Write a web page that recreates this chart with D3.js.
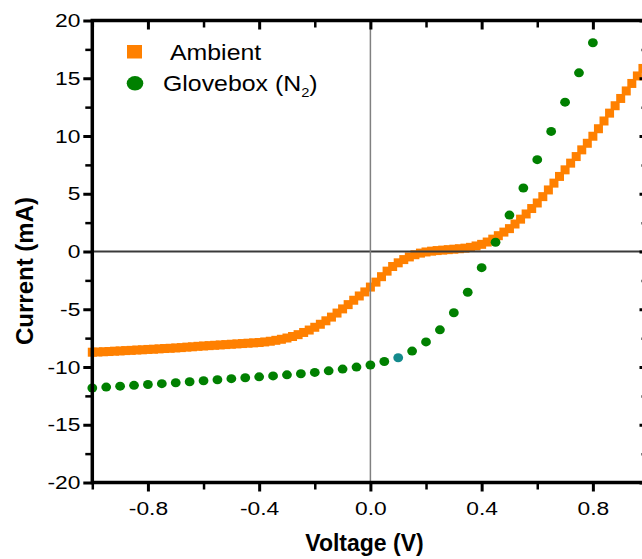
<!DOCTYPE html>
<html>
<head>
<meta charset="utf-8">
<script src="https://cdn.jsdelivr.net/npm/d3@7"></script>
<style>
  html, body { margin: 0; padding: 0; background: #fff; }
  svg { display: block; font-family: "Liberation Sans", Arial, sans-serif; }
</style>
</head>
<body>
<svg id="chart" width="642" height="559"></svg>
<script>
// J-V sweep, ambient atmosphere (0.02 V step)
const voltageAmbient = [
  -1.00, -0.98, -0.96, -0.94, -0.92, -0.90, -0.88, -0.86, -0.84, -0.82,
  -0.80, -0.78, -0.76, -0.74, -0.72, -0.70, -0.68, -0.66, -0.64, -0.62,
  -0.60, -0.58, -0.56, -0.54, -0.52, -0.50, -0.48, -0.46, -0.44, -0.42,
  -0.40, -0.38, -0.36, -0.34, -0.32, -0.30, -0.28, -0.26, -0.24, -0.22,
  -0.20, -0.18, -0.16, -0.14, -0.12, -0.10, -0.08, -0.06, -0.04, -0.02,
   0.00,  0.02,  0.04,  0.06,  0.08,  0.10,  0.12,  0.14,  0.16,  0.18,
   0.20,  0.22,  0.24,  0.26,  0.28,  0.30,  0.32,  0.34,  0.36,  0.38,
   0.40,  0.42,  0.44,  0.46,  0.48,  0.50,  0.52,  0.54,  0.56,  0.58,
   0.60,  0.62,  0.64,  0.66,  0.68,  0.70,  0.72,  0.74,  0.76,  0.78,
   0.80,  0.82,  0.84,  0.86,  0.88,  0.90,  0.92,  0.94,  0.96,  0.98,
   1.00
];
const currentAmbient = [
  -8.72, -8.70, -8.68, -8.66, -8.63, -8.61, -8.58, -8.56, -8.53, -8.51,
  -8.48, -8.46, -8.43, -8.40, -8.38, -8.35, -8.32, -8.28, -8.25, -8.21,
  -8.18, -8.15, -8.12, -8.09, -8.06, -8.03, -8.00, -7.97, -7.94, -7.91,
  -7.88, -7.83, -7.77, -7.69, -7.60, -7.49, -7.36, -7.20, -7.01, -6.80,
  -6.56, -6.30, -6.00, -5.68, -5.33, -4.97, -4.60, -4.22, -3.85, -3.50,
  -3.08, -2.65, -2.18, -1.70, -1.30, -0.98, -0.70, -0.47, -0.28, -0.14,
  -0.04,  0.03,  0.08,  0.12,  0.16,  0.20,  0.24,  0.29,  0.36,  0.48,
   0.62,  0.82,  1.07,  1.37,  1.68,  1.98,  2.38,  2.80,  3.25,  3.72,
   4.20,  4.75,  5.33,  5.92,  6.50,  7.07,  7.65,  8.22,  8.80,  9.37,
   9.98, 10.63, 11.30, 11.98, 12.62, 13.25, 13.90, 14.55, 15.20, 15.85,
  16.50
];

// J-V sweep, nitrogen glovebox (0.05 V step)
const voltageGlovebox = [
  -1.00, -0.95, -0.90, -0.85, -0.80, -0.75, -0.70, -0.65, -0.60, -0.55,
  -0.50, -0.45, -0.40, -0.35, -0.30, -0.25, -0.20, -0.15, -0.10, -0.05,
   0.00,  0.05,  0.10,  0.15,  0.20,  0.25,  0.30,  0.35,  0.40,  0.45,
   0.50,  0.55,  0.60,  0.65,  0.70,  0.75,  0.80
];
const currentGlovebox = [
  -11.82, -11.74, -11.66, -11.59, -11.52, -11.44, -11.36, -11.28, -11.19, -11.10,
  -11.01, -10.93, -10.85, -10.77, -10.68, -10.58, -10.47, -10.33, -10.18, -10.01,
   -9.83,  -9.52,  -9.20,  -8.62,  -7.83,  -6.78,  -5.30,  -3.53,  -1.40,   0.80,
    3.15,   5.50,   7.95,  10.40,  12.93,  15.47,  18.07
];
// the one sample plotted in a different hue
const markedGloveboxVoltage = 0.10;

const seriesNames = ["Ambient", "Glovebox (N", "2", ")"];
const xMajorTicks = [-0.8, -0.4, 0.0, 0.4, 0.8];
const xMinorTicks = [-1.0, -0.6, -0.2, 0.2, 0.6, 1.0];
const yMajorTicks = [-20, -15, -10, -5, 0, 5, 10, 15, 20];
const yMinorTicks = [-17.5, -12.5, -7.5, -2.5, 2.5, 7.5, 12.5, 17.5];
const xTitle = "Voltage (V)";
const yTitle = "Current (mA)";

const ORANGE = "#ff8000";
const GREEN = "#008000";
const TEAL = "#138a8c";

const svg = d3.select("#chart");

const x = d3.scaleLinear().domain([-1, 1]).range([92.3, 648.5]);
const y = d3.scaleLinear().domain([-20, 20]).range([482.5, 20.5]);

const plot = svg.append("g");

// Ambient: dense orange squares
const sq = 9;
plot.append("g").selectAll("rect")
  .data(voltageAmbient.map((v, i) => ({ v, c: currentAmbient[i] })))
  .join("rect")
  .attr("x", d => x(d.v) - sq / 2)
  .attr("y", d => y(d.c) - sq / 2)
  .attr("width", sq)
  .attr("height", sq)
  .attr("fill", ORANGE);

// reference lines through the origin
plot.append("line")
  .attr("x1", x(-1)).attr("x2", x(1))
  .attr("y1", y(0)).attr("y2", y(0))
  .attr("stroke", "#3a3a3a").attr("stroke-width", 2);
plot.append("line")
  .attr("x1", x(0)).attr("x2", x(0))
  .attr("y1", y(20)).attr("y2", y(-20))
  .attr("stroke", "#808080").attr("stroke-width", 1.5);

// Glovebox: green dots
plot.append("g").selectAll("ellipse")
  .data(voltageGlovebox.map((v, i) => ({ v, c: currentGlovebox[i] })))
  .join("ellipse")
  .attr("cx", d => x(d.v))
  .attr("cy", d => y(d.c))
  .attr("rx", 4.9)
  .attr("ry", 4.5)
  .attr("fill", d => Math.abs(d.v - markedGloveboxVoltage) < 1e-9 ? TEAL : GREEN);

// axes
const majorLen = 9, minorLen = 7;
const tickFont = 19, tickStretch = 1.2;

function styleTicks(g, width) {
  g.select(".domain").remove();
  g.selectAll(".tick line").attr("stroke", "#000").attr("stroke-width", width);
}

// left
const gl = svg.append("g").attr("transform", `translate(${x(-1)},0)`)
  .call(d3.axisLeft(y).tickValues(yMajorTicks).tickSize(majorLen).tickPadding(3)
    .tickFormat(d => String(d)));
styleTicks(gl, 3);
gl.selectAll(".tick text")
  .attr("font-size", tickFont)
  .attr("fill", "#000")
  .attr("x", -(majorLen + 3) / tickStretch)
  .attr("transform", `scale(${tickStretch},1)`);
const glm = svg.append("g").attr("transform", `translate(${x(-1)},0)`)
  .call(d3.axisLeft(y).tickValues(yMinorTicks).tickSize(minorLen).tickFormat(""));
styleTicks(glm, 2.5);

// bottom
const gb = svg.append("g").attr("transform", `translate(0,${y(-20)})`)
  .call(d3.axisBottom(x).tickValues(xMajorTicks).tickSize(majorLen).tickPadding(10)
    .tickFormat(d => d.toFixed(1)));
styleTicks(gb, 3);
gb.selectAll(".tick text")
  .attr("font-size", tickFont)
  .attr("fill", "#000")
  .attr("transform", `scale(${tickStretch},1)`);
const gbm = svg.append("g").attr("transform", `translate(0,${y(-20)})`)
  .call(d3.axisBottom(x).tickValues(xMinorTicks).tickSize(minorLen).tickFormat(""));
styleTicks(gbm, 2.5);

// top and right: inward ticks, no labels
const gt = svg.append("g").attr("transform", `translate(0,${y(20)})`)
  .call(d3.axisTop(x).tickValues(xMajorTicks).tickSize(-majorLen).tickFormat(""));
styleTicks(gt, 3);
const gtm = svg.append("g").attr("transform", `translate(0,${y(20)})`)
  .call(d3.axisTop(x).tickValues(xMinorTicks).tickSize(-minorLen).tickFormat(""));
styleTicks(gtm, 2.5);
const gr = svg.append("g").attr("transform", `translate(${x(1)},0)`)
  .call(d3.axisRight(y).tickValues(yMajorTicks).tickSize(-majorLen).tickFormat(""));
styleTicks(gr, 3);
const grm = svg.append("g").attr("transform", `translate(${x(1)},0)`)
  .call(d3.axisRight(y).tickValues(yMinorTicks).tickSize(-minorLen).tickFormat(""));
styleTicks(grm, 2.5);

// frame
svg.append("rect")
  .attr("x", x(-1)).attr("y", y(20))
  .attr("width", x(1) - x(-1)).attr("height", y(-20) - y(20))
  .attr("fill", "none").attr("stroke", "#000").attr("stroke-width", 3.5);

// axis titles
svg.append("text")
  .attr("x", 364.5)
  .attr("y", 551)
  .attr("text-anchor", "middle")
  .attr("font-size", 23)
  .attr("font-weight", "bold")
  .text(xTitle);
svg.append("text")
  .attr("transform", "translate(33,271) rotate(-90)")
  .attr("text-anchor", "middle")
  .attr("font-size", 24)
  .attr("font-weight", "bold")
  .text(yTitle);

// legend
const legendFont = 22, legendStretch = 1.13;
const lg = svg.append("g");
lg.append("rect")
  .attr("x", 127).attr("y", 45).attr("width", 15).attr("height", 13.5)
  .attr("fill", ORANGE);
lg.append("ellipse")
  .attr("cx", 135).attr("cy", 83.3).attr("rx", 8.3).attr("ry", 7.3)
  .attr("fill", GREEN);
lg.append("text")
  .attr("transform", `translate(170,60) scale(${legendStretch},1)`)
  .attr("font-size", legendFont)
  .text(seriesNames[0]);
const t2 = lg.append("text")
  .attr("transform", `translate(163,91) scale(${legendStretch},1)`)
  .attr("font-size", legendFont);
t2.append("tspan").text(seriesNames[1]);
t2.append("tspan").attr("font-size", 13).attr("dy", 6).text(seriesNames[2]);
t2.append("tspan").attr("dy", -6).text(seriesNames[3]);
</script>
</body>
</html>
